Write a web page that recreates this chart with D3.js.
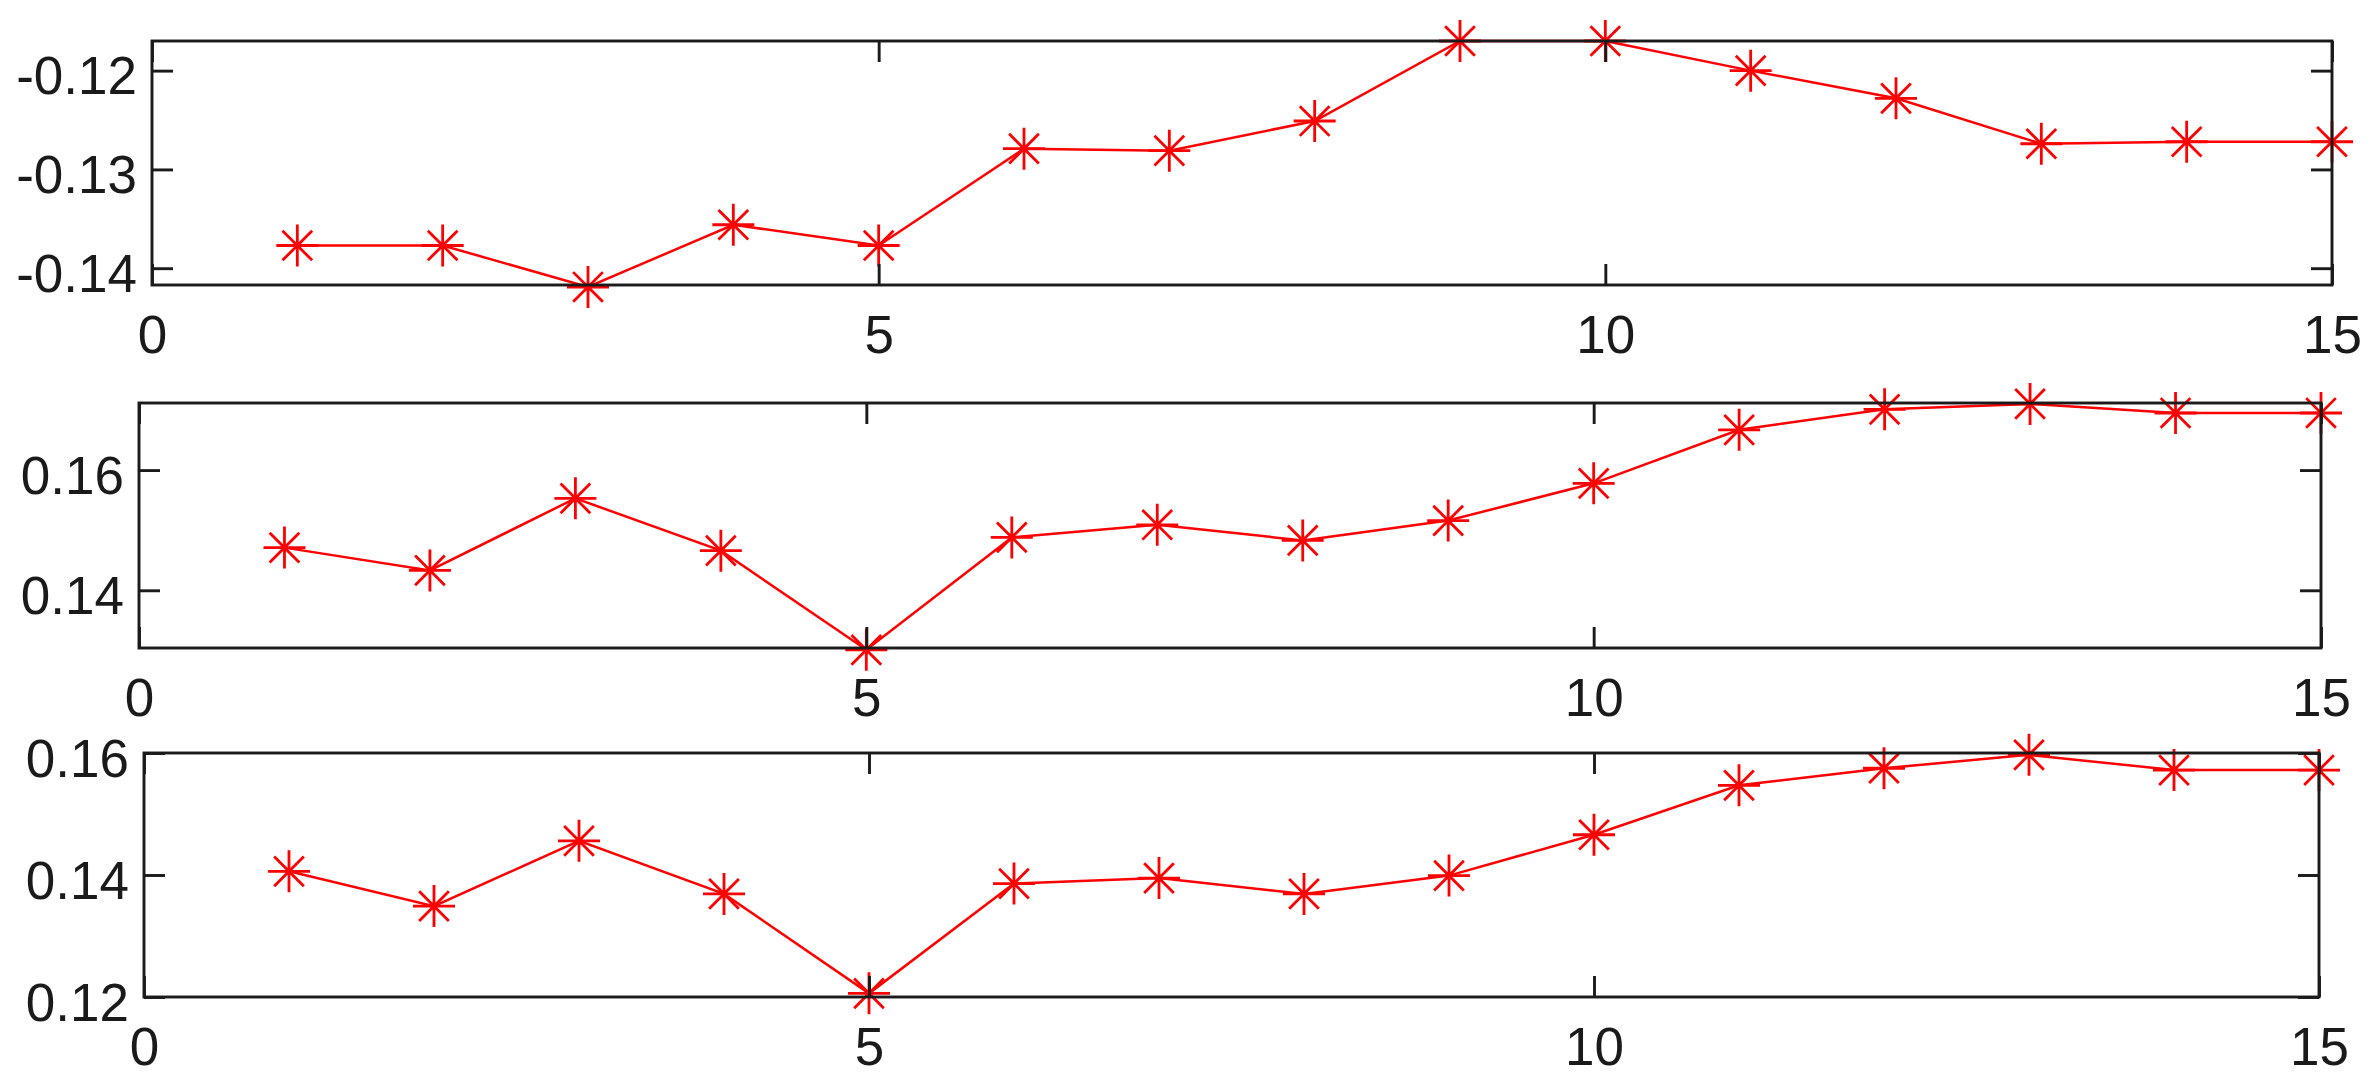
<!DOCTYPE html>
<html>
<head>
<meta charset="utf-8">
<script src="https://cdn.jsdelivr.net/npm/d3@7"></script>
<style>
  html, body { margin: 0; padding: 0; background: #ffffff; }
  svg { display: block; }
</style>
</head>
<body>
<svg id="chart" width="2375" height="1088"></svg>
<script>
// ---- data ----
const xValues = [1, 2, 3, 4, 5, 6, 7, 8, 9, 10, 11, 12, 13, 14, 15];
const series1 = [-0.1377, -0.1377, -0.1419, -0.1356, -0.1377, -0.1279, -0.1281, -0.1251, -0.1170, -0.1170, -0.1200, -0.1228, -0.1274, -0.1272, -0.1272];
const series2 = [0.1471, 0.1433, 0.1553, 0.1466, 0.1301, 0.1488, 0.1509, 0.1483, 0.1516, 0.1578, 0.1667, 0.1701, 0.1710, 0.1695, 0.1695];
const series3 = [0.1406, 0.1349, 0.1456, 0.1369, 0.1206, 0.1386, 0.1395, 0.1369, 0.1399, 0.1466, 0.1547, 0.1575, 0.1597, 0.1572, 0.1572];
const xTicks = [0, 5, 10, 15];
const xTickLabels = ["0", "5", "10", "15"];
const yTicks1 = [-0.14, -0.13, -0.12];
const yTickLabels1 = ["-0.14", "-0.13", "-0.12"];
const yTicks2 = [0.14, 0.16];
const yTickLabels2 = ["0.14", "0.16"];
const yTicks3 = [0.12, 0.14, 0.16];
const yTickLabels3 = ["0.12", "0.14", "0.16"];
const xDomain = [0, 15];
const yDomain1 = [-0.1417, -0.1170];
const yDomain2 = [0.1304, 0.17116];
const yDomain3 = [0.12, 0.16];

// ---- layout ----
const panels = [
  { left: 152, right: 2332, top: 41,  bottom: 285, values: series1, yDomain: yDomain1, yTicks: yTicks1, yLabels: yTickLabels1 },
  { left: 139, right: 2321, top: 403, bottom: 648, values: series2, yDomain: yDomain2, yTicks: yTicks2, yLabels: yTickLabels2 },
  { left: 144, right: 2319, top: 753, bottom: 997, values: series3, yDomain: yDomain3, yTicks: yTicks3, yLabels: yTickLabels3 }
];

const svg = d3.select("#chart");
const FONT = "'Liberation Sans', Arial, Helvetica, sans-serif";
const FS = 53;
const TICK = 21;
const axisColor = "#1a1a1a";
const red = "#ff0000";
const MR = 21; // marker radius

panels.forEach(p => {
  const x = d3.scaleLinear().domain(xDomain).range([p.left, p.right]);
  const y = d3.scaleLinear().domain(p.yDomain).range([p.bottom, p.top]);
  const g = svg.append("g");

  // data line
  const line = d3.line().x((d, i) => x(xValues[i])).y(d => y(d));
  g.append("path")
    .datum(p.values)
    .attr("d", line)
    .attr("fill", "none")
    .attr("stroke", red)
    .attr("stroke-width", 2.5);

  // asterisk markers
  const diag = MR * 0.7071;
  const markerPath = `M${-MR},0L${MR},0M0,${-MR}L0,${MR}M${-diag},${-diag}L${diag},${diag}M${-diag},${diag}L${diag},${-diag}`;
  g.selectAll("path.marker")
    .data(p.values)
    .enter().append("path")
    .attr("class", "marker")
    .attr("transform", (d, i) => `translate(${x(xValues[i])},${y(d)})`)
    .attr("d", markerPath)
    .attr("fill", "none")
    .attr("stroke", red)
    .attr("stroke-width", 2.8);

  // axes (box with inward ticks on all sides)
  const axG = svg.append("g");
  axG.append("rect")
    .attr("x", p.left).attr("y", p.top)
    .attr("width", p.right - p.left).attr("height", p.bottom - p.top)
    .attr("fill", "none").attr("stroke", axisColor).attr("stroke-width", 2.9);

  const bottomAxis = d3.axisBottom(x).tickValues(xTicks).tickSize(-TICK).tickFormat((d, i) => xTickLabels[i]).tickPadding(30);
  const topAxis = d3.axisTop(x).tickValues(xTicks).tickSize(-TICK).tickFormat("");
  const leftAxis = d3.axisLeft(y).tickValues(p.yTicks).tickSize(-TICK).tickFormat((d, i) => p.yLabels[i]).tickPadding(15);
  const rightAxis = d3.axisRight(y).tickValues(p.yTicks).tickSize(-TICK).tickFormat("");

  const styleAxis = sel => {
    sel.select(".domain").remove();
    sel.selectAll(".tick line").attr("stroke", axisColor).attr("stroke-width", 2.9);
    sel.selectAll(".tick text")
      .attr("fill", "#1a1a1a")
      .style("font-family", FONT)
      .style("font-size", FS + "px");
  };

  axG.append("g").attr("transform", `translate(0,${p.bottom})`).call(bottomAxis).call(styleAxis)
    .selectAll(".tick text").attr("dy", null).attr("y", 68).attr("dominant-baseline", "alphabetic");
  axG.append("g").attr("transform", `translate(0,${p.top})`).call(topAxis).call(styleAxis);
  axG.append("g").attr("transform", `translate(${p.left},0)`).call(leftAxis).call(styleAxis)
    .selectAll(".tick text").attr("dy", null).attr("y", 23).attr("dominant-baseline", "alphabetic");
  axG.append("g").attr("transform", `translate(${p.right},0)`).call(rightAxis).call(styleAxis);
});
</script>
</body>
</html>
